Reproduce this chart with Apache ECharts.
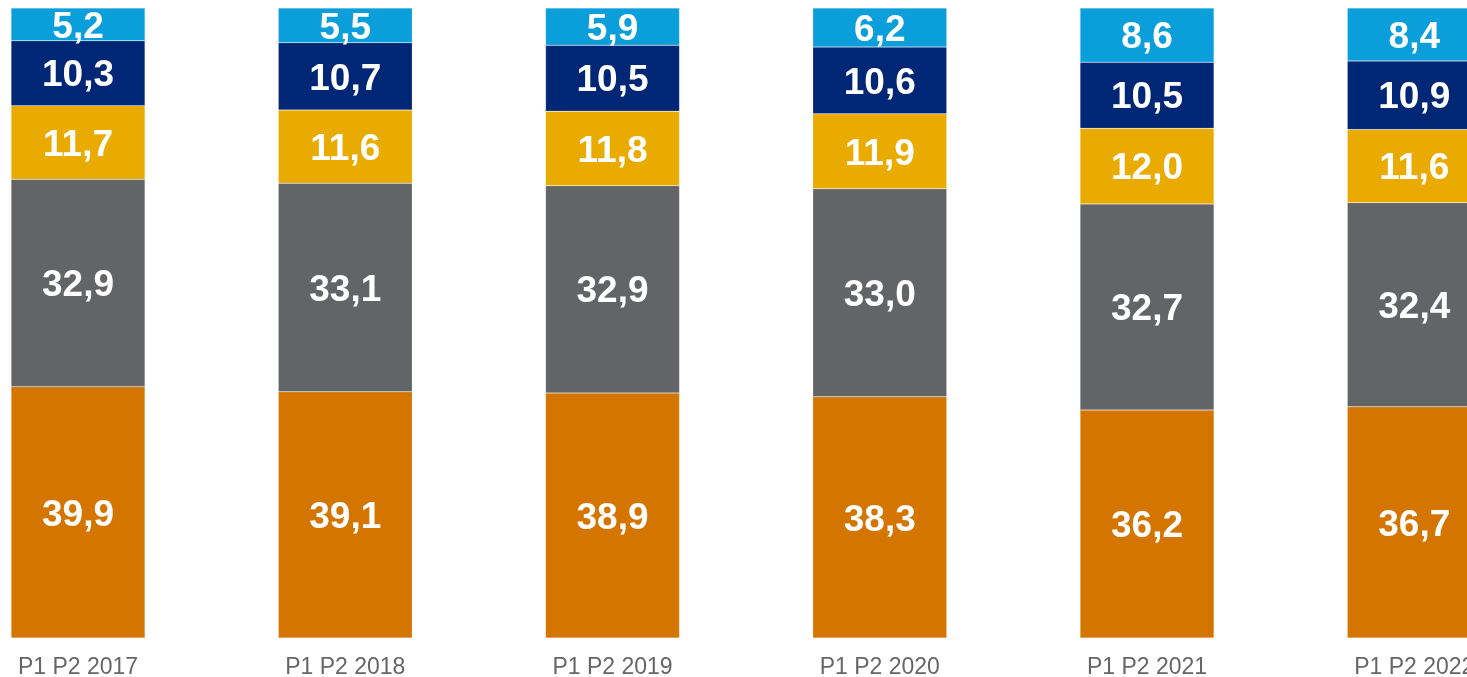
<!DOCTYPE html>
<html>
<head>
<meta charset="utf-8">
<script src="https://cdn.jsdelivr.net/npm/echarts@6/dist/echarts.min.js"></script>
<style>
  html, body { margin: 0; padding: 0; background: #fff; }
  #chart { width: 1467px; height: 677px; }
</style>
</head>
<body>
<div id="chart"></div>
<script>
// values, bottom segment to top segment
const categories = ["P1 P2 2017", "P1 P2 2018", "P1 P2 2019", "P1 P2 2020", "P1 P2 2021", "P1 P2 2022"];
const orangeVals = [39.9, 39.1, 38.9, 38.3, 36.2, 36.7];
const grayVals = [32.9, 33.1, 32.9, 33.0, 32.7, 32.4];
const yellowVals = [11.7, 11.6, 11.8, 11.9, 12.0, 11.6];
const navyVals = [10.3, 10.7, 10.5, 10.6, 10.5, 10.9];
const skyVals = [5.2, 5.5, 5.9, 6.2, 8.6, 8.4];

const colors = ["#D47500", "#636466", "#E9AB00", "#002776", "#0A9FDB"];

function makeSeries(name, data, color) {
  return {
    name: name,
    type: "bar",
    stack: "total",
    data: data,
    barWidth: 134,
    itemStyle: {
      color: color,
      borderColor: "rgba(255,255,255,0.35)",
      borderWidth: 0.5
    },
    label: {
      show: true,
      position: "inside",
      offset: [0, 3],
      color: "#ffffff",
      fontFamily: "Liberation Sans, Arial, sans-serif",
      fontWeight: "bold",
      fontSize: 37,
      formatter: p => p.value.toFixed(1).replace(".", ",")
    }
  };
}

const chart = echarts.init(document.getElementById("chart"));
chart.setOption({
  animation: false,
  grid: {
    left: -55.6,
    width: 1603.5,
    top: 8,
    bottom: 39,
    outerBoundsMode: "none",
    containLabel: false
  },
  xAxis: {
    type: "category",
    data: categories,
    axisLine: { show: false },
    axisTick: { show: false },
    axisLabel: {
      color: "#666666",
      fontFamily: "Liberation Sans, Arial, sans-serif",
      fontSize: 23,
      margin: 18,
      interval: 0
    }
  },
  yAxis: {
    type: "value",
    min: 0,
    max: 100,
    show: false
  },
  series: [
    makeSeries("orange", orangeVals, colors[0]),
    makeSeries("gray", grayVals, colors[1]),
    makeSeries("yellow", yellowVals, colors[2]),
    makeSeries("navy", navyVals, colors[3]),
    makeSeries("sky", skyVals, colors[4])
  ]
});
</script>
</body>
</html>
